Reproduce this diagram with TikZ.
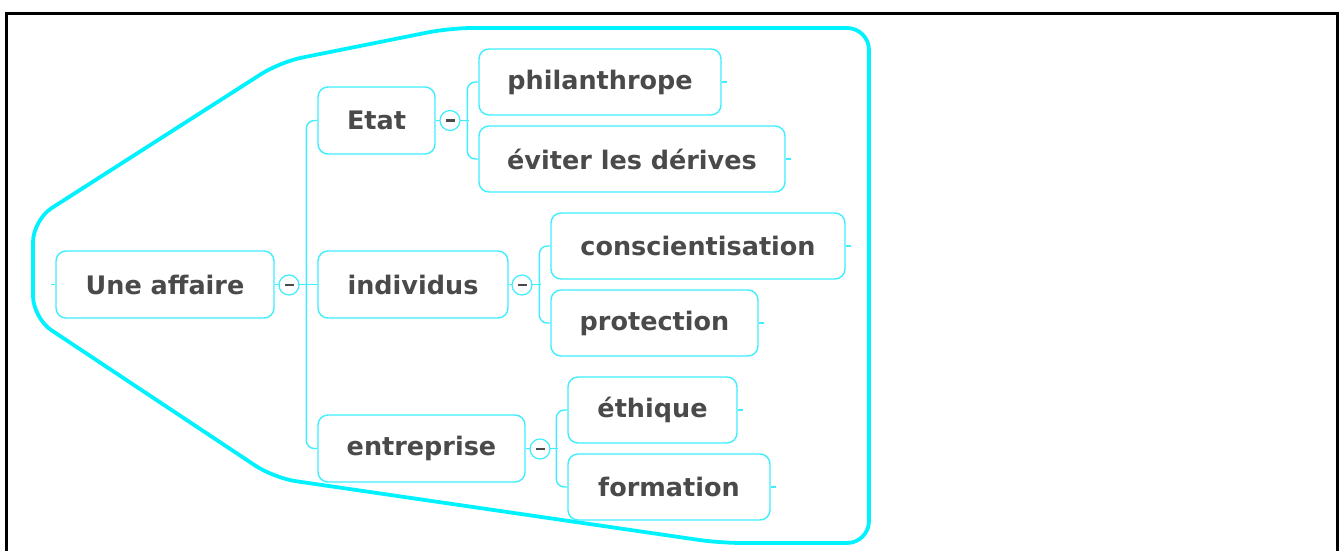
\documentclass[tikz,border=0pt]{standalone}
\usepackage{fontspec}
\setmainfont{DejaVu Sans}
\usepackage{xcolor}
\usepackage{tikz}
\usetikzlibrary{positioning}

\definecolor{hull}{HTML}{00F2FF}
\definecolor{mapline}{HTML}{3DEEFF}
\definecolor{ink}{HTML}{4A4A4A}

\tikzset{
  topic/.style={draw=mapline, line width=1.4pt, rounded corners=10pt, fill=white,
    minimum height=67pt, inner xsep=0pt, text=ink,
    font=\bfseries\fontsize{25.5}{30}\selectfont},
  fold/.style={circle, draw=mapline, fill=white, line width=1.2pt,
    minimum size=20pt, inner sep=0pt},
  link/.style={draw=mapline, line width=1.4pt, rounded corners=8pt},
}
\newcommand{\minus}{\textcolor{ink}{\rule[0pt]{9pt}{2.2pt}}}

\begin{document}
\begin{tikzpicture}[x=1pt, y=-1pt]
  \useasboundingbox (0,0) rectangle (1341,550);
  \draw[line width=3pt] (6,552) -- (6,13) -- (1337,13) -- (1337,552);

  % outline round the whole map
  \draw[hull, line width=3.8pt, rounded corners=22pt]
    (33,268) -- (33,220) -- (280,62) -- (450,28) -- (869,28)
    -- (869,543) -- (720,543) -- (274,478) -- (33,318) -- cycle;

  % topics
  \node[topic, minimum width=218pt] (root)  at (165,284.5) {Une affaire};
  \node[topic, minimum width=117pt] (etat)  at (376.5,120.5) {Etat};
  \node[topic, minimum width=190pt] (indiv) at (413,284.5) {individus};
  \node[topic, minimum width=207pt] (entr)  at (421.5,448.5) {entreprise};

  \node[topic, minimum width=242pt, minimum height=66pt] (phil)  at (600,82) {philanthrope};
  \node[topic, minimum width=306pt, minimum height=66pt] (evit)  at (632,159) {éviter les dérives};
  \node[topic, minimum width=294pt, minimum height=66pt] (consc) at (698,246) {conscientisation};
  \node[topic, minimum width=207pt, minimum height=66pt] (prot)  at (654.5,323) {protection};
  \node[topic, minimum width=169pt, minimum height=66pt] (ethi)  at (652.5,410) {éthique};
  \node[topic, minimum width=202pt, minimum height=66pt] (form)  at (669,487) {formation};

  % branches
  \draw[link] (root.east) -- (indiv.west);
  \draw[link] (etat.west) -- ++(-11,0) |- (entr.west);
  \draw[link] (etat.east) -- ++(33,0);
  \draw[link] (phil.west) -- ++(-11,0) |- (evit.west);
  \draw[link] (indiv.east) -- ++(32,0);
  \draw[link] (consc.west) -- ++(-11,0) |- (prot.west);
  \draw[link] (entr.east) -- ++(32,0);
  \draw[link] (ethi.west) -- ++(-11,0) |- (form.west);

  % little stubs on the free sides
  \draw[link] (root.west) -- ++(-4,0);
  \foreach \n in {phil,evit,consc,prot,ethi,form}
    \draw[link] (\n.east) -- ++(5,0);

  % collapse buttons
  \node[fold] (f0) at (289,285) {\minus};
  \node[fold] (f1) at (450,120.5) {\minus};
  \node[fold] (f2) at (522,285) {\minus};
  \node[fold] (f3) at (540,449) {\minus};
\end{tikzpicture}
\end{document}
